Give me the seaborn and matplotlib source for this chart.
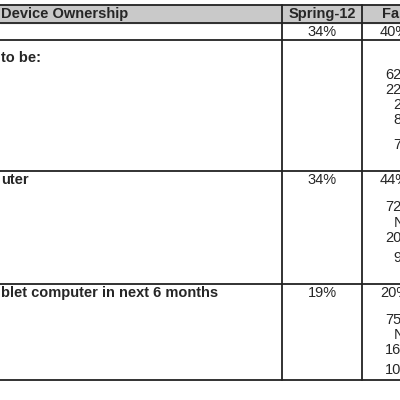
import seaborn as sns
import matplotlib.pyplot as plt
from matplotlib.patches import Rectangle

sns.set_theme(style="white")
plt.rcParams['font.family'] = ['Liberation Sans', 'DejaVu Sans']

header = ["Device Ownership", "Spring-12", "Fall-12"]
row_labels = ["", "to be:", "uter", "blet computer in next 6 months"]
row_label_y = [32, 58, 180, 293]
spring_vals = ["34%", "", "34%", "19%"]
fall_head = ["40%", "", "44%", "20%"]
fall_sub = ["62%", "22%", "2%", "8%", "7%", "72%", "NA", "20%", "9%", "75%", "NA", "16%", "10%"]
fall_sub_y = [75, 90, 105, 120, 145, 207, 223, 238, 258, 320, 335, 350, 370]
hlines = [5, 23, 40, 171, 284, 380]
vlines = [282, 362]

fig = plt.figure(figsize=(4, 4), dpi=100)
ax = fig.add_axes([0, 0, 1, 1])
ax.set_xlim(0, 400)
ax.set_ylim(400, 0)
ax.axis("off")

ax.add_patch(Rectangle((0, 5), 400, 18, color="#c9c9c9", zorder=0))
for y in hlines:
    ax.plot([0, 400], [y, y], color="#222222", lw=1.3)
for x in vlines:
    ax.plot([x, x], [5, 380], color="#222222", lw=1.3)

fs = 10.5
ax.text(1, 14, header[0], fontsize=fs, weight="bold", va="center", ha="left")
ax.text(322, 14, header[1], fontsize=fs, weight="bold", va="center", ha="center")
ax.text(382, 14, header[2], fontsize=fs, weight="bold", va="center", ha="left")
for lab, y, s, f in zip(row_labels, row_label_y, spring_vals, fall_head):
    ax.text(1, y, lab, fontsize=fs, weight="bold", va="center", ha="left")
    ax.text(322, y, s, fontsize=fs, va="center", ha="center")
    ax.text(380, y, f, fontsize=fs, va="center", ha="left")
for v, y in zip(fall_sub, fall_sub_y):
    ax.text(414, y, v, fontsize=fs, va="center", ha="right")

fig.savefig("out.png", dpi=100, facecolor="white")
